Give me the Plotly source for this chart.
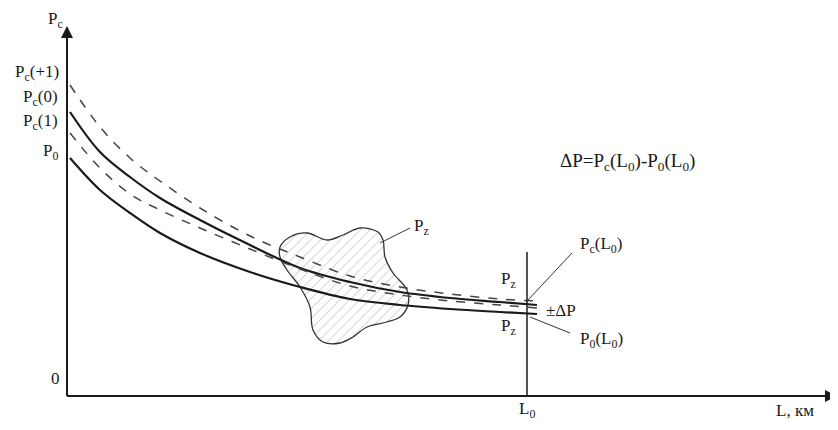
import plotly.graph_objects as go

# distance L (schematic units), curves P(L)
L = [3, 33, 63, 93, 133, 183, 233, 283, 333, 383, 433, 470]
Pc_plus1 = [311, 269, 238, 215, 188, 160, 139, 120, 109, 102, 97, 95]
Pc_0 = [284, 244, 219, 198, 176, 151, 128, 114, 104, 98, 94, 91]
Pc_1 = [263, 228, 202, 186, 168, 147, 127, 110, 101, 95, 91, 88]
P_0 = [238, 206, 183, 163, 143, 124, 109, 97, 91, 87, 84, 82]

# P_z region outline
blob_x = [213, 223, 240, 260, 276, 293, 311, 316, 318, 326, 340, 341, 333, 320,
          300, 286, 273, 256, 246, 243, 233, 220, 213, 213]
blob_y = [149, 159, 163, 156, 161, 168, 164, 156, 139, 123, 106, 91, 79, 74,
          69, 59, 53, 54, 66, 89, 109, 126, 139, 149]

L0 = 460
L0_top = 144

FONT = "Liberation Serif"
dark = "#1a1a1a"

fig = go.Figure()

# hatched region
fig.add_trace(go.Scatter(x=blob_x, y=blob_y, mode="lines", line=dict(color="#333", width=1.3, shape="spline"),
                         fill="toself", fillcolor="rgba(255,255,255,0)",
                         fillpattern=dict(shape="/", fgcolor="#888", bgcolor="white", size=7, solidity=0.14),
                         hoverinfo="skip"))

for ys, dash, col, w in [(Pc_plus1, "dash", "#444", 1.5), (Pc_0, "solid", dark, 2.2),
                         (Pc_1, "dash", "#444", 1.5), (P_0, "solid", dark, 2.2)]:
    fig.add_trace(go.Scatter(x=L, y=ys, mode="lines", line=dict(color=col, width=w, dash=dash, shape="spline", smoothing=1.0),
                             hoverinfo="skip"))

# vertical line at L0
fig.add_trace(go.Scatter(x=[L0, L0], y=[0, L0_top], mode="lines", line=dict(color=dark, width=1.5), hoverinfo="skip"))

# axes
fig.add_trace(go.Scatter(x=[0, 0], y=[0, 362], mode="lines", line=dict(color=dark, width=2), hoverinfo="skip"))
fig.add_trace(go.Scatter(x=[0, 762], y=[0, 0], mode="lines", line=dict(color=dark, width=2), hoverinfo="skip"))
fig.add_annotation(x=0, y=370, ax=0, ay=340, xref="x", yref="y", axref="x", ayref="y", text="",
                   showarrow=True, arrowhead=2, arrowsize=1.2, arrowwidth=2, arrowcolor=dark)
fig.add_annotation(x=770, y=0, ax=740, ay=0, xref="x", yref="y", axref="x", ayref="y", text="",
                   showarrow=True, arrowhead=2, arrowsize=1.2, arrowwidth=2, arrowcolor=dark)

# leader lines
leaders = [([313, 343], [153, 168]), ([461, 505], [96, 143]), ([463, 503], [79, 63])]
for lx, ly in leaders:
    fig.add_trace(go.Scatter(x=lx, y=ly, mode="lines", line=dict(color="#333", width=1), hoverinfo="skip"))

labels = [
    (-12, 376, "P<sub>c</sub>", 17),
    (-30, 323, "P<sub>c</sub>(+1)", 17),
    (-27, 298, "P<sub>c</sub>(0)", 17),
    (-27, 274, "P<sub>c</sub>(1)", 17),
    (-17, 244, "P<sub>0</sub>", 17),
    (-12, 18, "0", 17),
    (460, -14, "L<sub>0</sub>", 17),
    (728, -14, "L, км", 17),
    (560, 234, "ΔP=P<sub>c</sub>(L<sub>0</sub>)-P<sub>0</sub>(L<sub>0</sub>)", 19),
    (354, 169, "P<sub>z</sub>", 17),
    (441, 116, "P<sub>z</sub>", 17),
    (441, 69, "P<sub>z</sub>", 17),
    (494, 86, "±ΔP", 17),
    (534, 151, "P<sub>c</sub>(L<sub>0</sub>)", 17),
    (534, 56, "P<sub>0</sub>(L<sub>0</sub>)", 17),
]
for lx, ly, txt, fs in labels:
    fig.add_annotation(x=lx, y=ly, xref="x", yref="y", text=txt, showarrow=False,
                       font=dict(family=FONT, size=fs, color=dark))

# page body adds an 8px offset, so the figure is drawn 8px smaller
fig.update_layout(width=830, height=422, margin=dict(l=0, r=0, t=0, b=0),
                  plot_bgcolor="white", paper_bgcolor="white", showlegend=False,
                  xaxis=dict(range=[-59, 771], visible=False),
                  yaxis=dict(range=[-34, 388], visible=False))

fig.write_html("out.html")
